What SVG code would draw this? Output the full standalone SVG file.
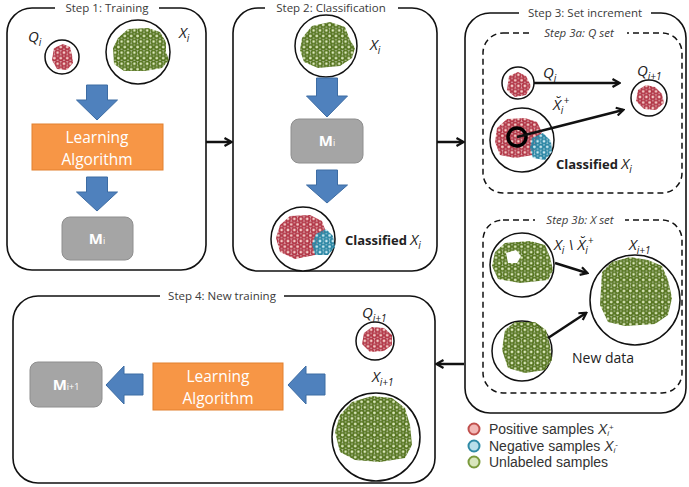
<svg xmlns="http://www.w3.org/2000/svg" width="689" height="487" viewBox="0 0 689 487">
<style>
.box{fill:none;stroke:#111;stroke-width:1.6}
.dash{fill:none;stroke:#111;stroke-width:1.5;stroke-dasharray:6 4}
.ttl{font-family:"Open Sans","Liberation Sans",sans-serif;font-size:11.5px;fill:#3a3a3a;text-anchor:middle}
.ittl{font-family:"Open Sans","Liberation Sans",sans-serif;font-size:11.5px;fill:#3a3a3a;text-anchor:middle;font-style:italic}
.ring{fill:#fff;stroke:#111;stroke-width:1.5}
.lbl{font-family:"Open Sans","Liberation Sans",sans-serif;font-size:15px;font-style:italic;font-weight:normal;fill:#222}
.sub{font-size:10px}
.bold{font-family:"Open Sans","Liberation Sans",sans-serif;font-size:13px;font-weight:bold;fill:#222}
.reg{font-family:"Open Sans","Liberation Sans",sans-serif;font-size:14px;fill:#222}
.leg{font-family:"Liberation Sans","Open Sans",sans-serif;font-size:14px;fill:#333}
.orange{fill:#f79646;stroke:#e2802f;stroke-width:1}
.otxt{font-family:"Open Sans","Liberation Sans",sans-serif;font-size:15.5px;fill:#fff;text-anchor:middle}
.gray{fill:#a5a5a5;stroke:#8e8e8e;stroke-width:1}
.mtxt{font-family:"Open Sans","Liberation Sans",sans-serif;font-size:15px;font-weight:bold;fill:#fff;text-anchor:middle}
.barrow{fill:#4f81bd;stroke:#3d6ca3;stroke-width:1}
.conn{fill:none;stroke:#111;stroke-width:2.5;marker-end:url(#head)}
.gd{fill:url(#pg)}
.rd{fill:url(#pr)}
.bd{fill:url(#pb)}
</style>
<defs>
<marker id="head" viewBox="0 0 10 10" refX="8" refY="5" markerWidth="10" markerHeight="10" markerUnits="userSpaceOnUse" orient="auto">
<path d="M1.5,1 L8.5,5 L1.5,9" fill="none" stroke="#111" stroke-width="2.2"/>
</marker>
<pattern id="pg" width="6.4" height="11.085" patternUnits="userSpaceOnUse">
<g fill="#dde9bf" stroke="#567520" stroke-width="1.9">
<circle cx="3.2" cy="2.771" r="2.3"/><circle cx="3.2" cy="13.856" r="2.3"/>
<circle cx="0" cy="8.314" r="2.3"/><circle cx="6.4" cy="8.314" r="2.3"/>
<circle cx="0" cy="-2.771" r="2.3"/><circle cx="6.4" cy="-2.771" r="2.3"/>
</g>
</pattern>
<pattern id="pr" width="6.4" height="11.085" patternUnits="userSpaceOnUse">
<g fill="#f5cdc9" stroke="#b23747" stroke-width="1.9">
<circle cx="3.2" cy="2.771" r="2.3"/><circle cx="3.2" cy="13.856" r="2.3"/>
<circle cx="0" cy="8.314" r="2.3"/><circle cx="6.4" cy="8.314" r="2.3"/>
<circle cx="0" cy="-2.771" r="2.3"/><circle cx="6.4" cy="-2.771" r="2.3"/>
</g>
</pattern>
<pattern id="pb" width="6.4" height="11.085" patternUnits="userSpaceOnUse">
<g fill="#cdeaf2" stroke="#2a86a4" stroke-width="1.9">
<circle cx="3.2" cy="2.771" r="2.3"/><circle cx="3.2" cy="13.856" r="2.3"/>
<circle cx="0" cy="8.314" r="2.3"/><circle cx="6.4" cy="8.314" r="2.3"/>
<circle cx="0" cy="-2.771" r="2.3"/><circle cx="6.4" cy="-2.771" r="2.3"/>
</g>
</pattern>
</defs>
<rect width="689" height="487" fill="#fff"/>

<g id="step1">
<rect class="box" x="7" y="8" width="199" height="262" rx="25"/>
<rect x="55" y="1" width="104" height="14" fill="#fff"/>
<text class="ttl" x="107" y="12">Step 1: Training</text>
<circle class="ring" cx="62" cy="57" r="17"/>
<path class="rd" d="M54,48 L63,44 L70,47 L72,55 L73,63 L67,70 L57,69 L52,60 Z"/>
<circle class="ring" cx="138" cy="52" r="32"/>
<path class="gd" d="M118,38 L128,29 L148,28 L160,32 L166,42 L166,52 L169,60 L162,68 L145,71 L124,71 L114,64 L113,48 Z"/>
<text class="lbl" x="28" y="42">Q<tspan class="sub" dy="4">i</tspan></text>
<text class="lbl" x="179" y="38">X<tspan class="sub" dy="4">i</tspan></text>
<rect class="orange" x="32" y="124" width="131" height="46"/>
<text class="otxt" x="97" y="143">Learning</text>
<text class="otxt" x="97" y="165">Algorithm</text>
<rect class="gray" x="62" y="217" width="71" height="43" rx="8"/>
<text class="mtxt" x="97" y="244">M<tspan font-size="9" font-weight="normal">i</tspan></text>
</g>

<g id="step2">
<rect class="box" x="233" y="8" width="204" height="263" rx="25"/>
<rect x="265" y="1" width="133" height="14" fill="#fff"/>
<text class="ttl" x="331" y="12">Step 2: Classification</text>
<circle class="ring" cx="326" cy="46" r="31"/>
<path class="gd" d="M302,38 L312,26 L330,22 L345,27 L350,40 L355,48 L352,58 L340,66 L318,68 L304,62 L300,50 Z"/>
<text class="lbl" x="370" y="50">X<tspan class="sub" dy="4">i</tspan></text>
<rect class="gray" x="291" y="119" width="72" height="44" rx="8"/>
<text class="mtxt" x="327" y="146">M<tspan font-size="9" font-weight="normal">i</tspan></text>
<circle class="ring" cx="303" cy="239" r="32"/>
<path class="rd" d="M280,225 L290,216 L310,215 L322,221 L326,232 L318,238 L315,255 L295,259 L280,252 L276,238 Z"/>
<path class="bd" d="M316,234 L326,229 L333,236 L335,247 L328,255 L315,255 L312,244 Z"/>
<text class="bold" x="345" y="245">Classified <tspan class="lbl" font-size="14">X</tspan><tspan class="lbl sub" dy="4">i</tspan></text>
</g>

<g id="step3">
<rect class="box" x="465" y="13" width="221" height="400" rx="25"/>
<rect x="519" y="6" width="132" height="14" fill="#fff"/>
<text class="ttl" x="585" y="17">Step 3: Set increment</text>
</g>

<g id="step3a">
<rect class="dash" x="483" y="33" width="199" height="160" rx="20"/>
<rect x="531" y="26" width="96" height="14" fill="#fff"/>
<text class="ittl" x="579" y="37">Step 3a: Q set</text>
<circle class="ring" cx="518" cy="83" r="16"/>
<path class="rd" d="M509,76 L518,72 L526,76 L531,86 L526,95 L515,97 L507,90 Z"/>
<text class="lbl" x="543" y="78">Q<tspan class="sub" dy="4">i</tspan></text>
<circle class="ring" cx="649" cy="98" r="18"/>
<path class="rd" d="M638,90 L646,85 L655,87 L662,94 L664,103 L656,110 L644,109 L636,101 Z"/>
<text class="lbl" x="637" y="76">Q<tspan class="sub" dy="4">i+1</tspan></text>
<circle class="ring" cx="522" cy="140" r="32"/>
<path class="rd" d="M497,128 L507,119 L525,118 L537,122 L542,132 L538,140 L533,155 L515,158 L500,155 L495,142 Z"/>
<path class="bd" d="M532,138 L543,133 L551,141 L552,152 L545,160 L533,158 L530,148 Z"/>
<circle cx="517" cy="137" r="9" fill="none" stroke="#000" stroke-width="3.5"/>
<text class="lbl" x="553" y="110">X&#x306;<tspan class="sub" dy="4">i</tspan><tspan class="sub" dy="-10">+</tspan></text>
<text class="bold" x="556" y="169">Classified <tspan class="lbl" font-size="14">X</tspan><tspan class="lbl sub" dy="4">i</tspan></text>
</g>

<g id="step3b">
<rect class="dash" x="483" y="220" width="199" height="173" rx="20"/>
<rect x="535" y="213" width="90" height="14" fill="#fff"/>
<text class="ittl" x="580" y="224">Step 3b: X set</text>
<circle class="ring" cx="522" cy="265" r="32"/>
<path class="gd" d="M495,252 L505,243 L530,241 L545,245 L550,257 L553,270 L548,280 L520,283 L498,279 L492,266 Z"/>
<path fill="#fff" d="M506,253 L516,250 L521,256 L517,263 L508,263 Z"/>
<text class="lbl" x="554" y="250">X<tspan class="sub" dy="4">i</tspan><tspan dy="-4"> \ X&#x306;</tspan><tspan class="sub" dy="4">i</tspan><tspan class="sub" dy="-10">+</tspan></text>
<circle class="ring" cx="635" cy="300" r="45"/>
<path class="gd" d="M602,272 L612,262 L630,257 L648,260 L662,266 L668,280 L672,298 L668,315 L655,324 L625,326 L608,322 L600,305 Z"/>
<text class="lbl" x="629" y="250">X<tspan class="sub" dy="4">i+1</tspan></text>
<circle class="ring" cx="522" cy="351" r="30"/>
<path class="gd" d="M505,330 L515,322 L535,322 L546,330 L550,345 L552,360 L545,370 L525,373 L508,368 L502,350 Z"/>
<text class="reg" x="572" y="363">New data</text>
</g>

<g id="step4">
<rect class="box" x="13" y="296" width="422" height="187" rx="25"/>
<rect x="160" y="289" width="124" height="14" fill="#fff"/>
<text class="ttl" x="222" y="300">Step 4: New training</text>
<circle class="ring" cx="375" cy="341" r="19"/>
<path class="rd" d="M364,333 L372,327 L384,328 L392,335 L392,345 L384,351 L370,352 L362,344 Z"/>
<text class="lbl" x="362" y="318">Q<tspan class="sub" dy="4">i+1</tspan></text>
<text class="lbl" x="372" y="382">X<tspan class="sub" dy="4">i+1</tspan></text>
<circle class="ring" cx="376" cy="437" r="44"/>
<path class="gd" d="M340,415 L352,402 L372,396 L392,398 L405,408 L410,425 L412,445 L405,458 L380,462 L355,460 L340,452 L335,432 Z"/>
<rect class="orange" x="153" y="363" width="130" height="47"/>
<text class="otxt" x="218" y="382">Learning</text>
<text class="otxt" x="218" y="404">Algorithm</text>
<rect class="gray" x="30" y="362" width="72" height="45" rx="8"/>
<text class="mtxt" x="66" y="390">M<tspan font-size="9" font-weight="normal">i+1</tspan></text>
</g>

<g id="legend">
<circle cx="474" cy="429" r="5.5" fill="#f2b8b6" stroke="#c0504d" stroke-width="2"/>
<circle cx="474" cy="446" r="5.5" fill="#b9dfea" stroke="#2f8aa6" stroke-width="2"/>
<circle cx="474" cy="462" r="5.5" fill="#d9e6bd" stroke="#7a9a3c" stroke-width="2"/>
<text class="leg" x="489" y="434">Positive samples <tspan font-style="italic">X</tspan><tspan font-style="italic" font-size="8" dy="2">i</tspan><tspan font-size="8" dy="-6">+</tspan></text>
<text class="leg" x="489" y="451">Negative samples <tspan font-style="italic">X</tspan><tspan font-style="italic" font-size="8" dy="2">i</tspan><tspan font-size="8" dy="-6">-</tspan></text>
<text class="leg" x="489" y="467">Unlabeled samples</text>
</g>

<g id="connectors">
<path class="barrow" d="M86.5,85 H107.5 V100 H117.5 L97,120 L76.5,100 H86.5 Z"/>
<path class="barrow" d="M86.5,177 H107.5 V192 H117.5 L97,211 L76.5,192 H86.5 Z"/>
<path class="barrow" d="M316.5,78 H337.5 V96 H347.5 L327,117 L306.5,96 H316.5 Z"/>
<path class="barrow" d="M316.5,170 H337.5 V185 H347.5 L327,203 L306.5,185 H316.5 Z"/>
<path class="barrow" d="M325,374 V395 H306 V404 L288,385 L306,366 V374 Z"/>
<path class="barrow" d="M143,374 V395 H124 V404 L106,385 L124,366 V374 Z"/>
<path class="conn" d="M206,142 L231,142"/>
<path class="conn" d="M437,142 L463,142"/>
<path class="conn" d="M464,364 L437,364"/>
<path class="conn" d="M534,83 L619,83"/>
<path class="conn" d="M517,137 L623,110"/>
<path class="conn" d="M555,263 L587,273"/>
<path class="conn" d="M548,338 L586,313"/>
</g>
</svg>
